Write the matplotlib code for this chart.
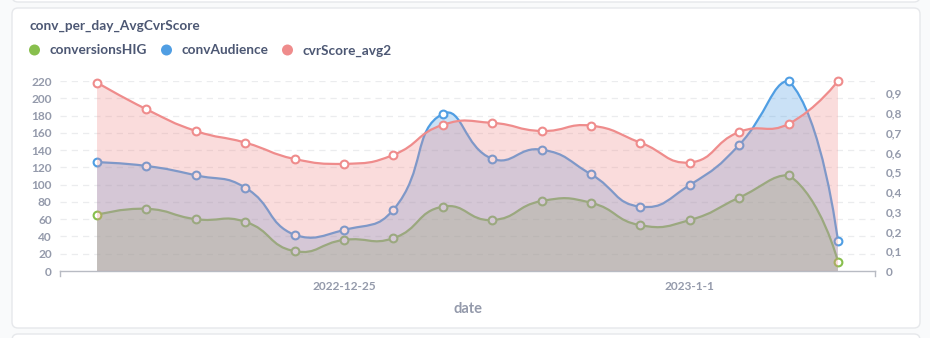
import numpy as np
import pandas as pd
import matplotlib
matplotlib.use("Agg")
import matplotlib.pyplot as plt
import matplotlib.dates as mdates
from matplotlib.path import Path
from matplotlib.patches import PathPatch, FancyBboxPatch, Circle
from matplotlib.ticker import FuncFormatter

# daily values
dates = pd.date_range("2022-12-20", "2023-01-04", freq="D")
conversions_hig = [65, 72, 60, 57, 23, 36, 38, 74.5, 59, 81, 79, 53, 59, 85, 111, 11]
conv_audience = [126, 121.6, 110.8, 96.5, 41.7, 47.5, 71, 182, 130, 140.5, 112, 74.5, 99.6, 146, 220, 34.7]
cvr_score_avg2 = [0.954, 0.819, 0.709, 0.650, 0.567, 0.542, 0.588, 0.740, 0.750,
                  0.709, 0.736, 0.650, 0.549, 0.704, 0.745, 0.962]
series_names = ["conversionsHIG", "convAudience", "cvrScore_avg2"]
x_tick_dates = ["2022-12-25", "2023-01-01"]
left_ticks = np.arange(0, 221, 20)
right_ticks = np.round(np.arange(0, 0.91, 0.1), 1)

GREEN = "#88BF4D"
BLUE = "#509EE3"
RED = "#EF8C8C"
TEXT_DARK = "#4C5773"
TEXT_LIGHT = "#949AAB"

plt.rcParams["font.family"] = ["Lato", "DejaVu Sans"]
plt.rcParams["font.weight"] = "bold"

W, H = 930, 338


def smooth_path(ax, xs, ys, smooth=0.5):
    """Cubic bezier through the points, control points built in screen space."""
    pts = ax.transData.transform(np.column_stack([xs, ys]))
    lo, hi = pts.min(axis=0), pts.max(axis=0)
    verts = [pts[0]]
    codes = [Path.MOVETO]
    cp0 = pts[0].copy()
    n = len(pts)
    for i in range(1, n):
        p = pts[i]
        if i == n - 1:
            v = np.zeros(2)
            ratio = 0.5
            cp1 = p.copy()
        else:
            v = pts[i + 1] - pts[i - 1]
            l0 = np.hypot(*(p - pts[i - 1]))
            l1 = np.hypot(*(pts[i + 1] - p))
            ratio = l1 / (l0 + l1)
            cp1 = p - v * smooth * (1 - ratio)
        verts += [np.clip(cp0, lo, hi), np.clip(cp1, lo, hi), p]
        codes += [Path.CURVE4] * 3
        cp0 = p + v * smooth * ratio
    return ax.transData.inverted().transform(np.array(verts)), codes


def draw_series(ax, xs, ys, color, z):
    verts, codes = smooth_path(ax, xs, ys)
    area_verts = np.vstack([verts, [[xs[-1], 0], [xs[0], 0], verts[0]]])
    area_codes = codes + [Path.LINETO, Path.LINETO, Path.CLOSEPOLY]
    ax.add_patch(PathPatch(Path(area_verts, area_codes), facecolor=color, alpha=0.3,
                           edgecolor="none", zorder=z))
    ax.add_patch(PathPatch(Path(verts, codes), facecolor="none", edgecolor=color,
                           lw=1.6, zorder=z + 0.1, clip_on=False))
    ax.plot(xs[1:-1], ys[1:-1], "o", ms=5.6, mfc="white", mec=color, mew=1.5,
            zorder=z + 0.2, clip_on=False)
    ax.plot([xs[0], xs[-1]], [ys[0], ys[-1]], "o", ms=5.6, mfc="white", mec=color,
            mew=1.5, zorder=10, clip_on=False)


fig = plt.figure(figsize=(W / 100, H / 100), dpi=100)
fig.patch.set_facecolor("#F9FAFB")

# background layer in pixel coordinates
bg = fig.add_axes([0, 0, 1, 1], zorder=0)
bg.set_xlim(0, W)
bg.set_ylim(H, 0)
bg.axis("off")
bg.add_patch(FancyBboxPatch((12, -30), 908, 32, boxstyle="round,pad=0,rounding_size=6",
                            facecolor="white", edgecolor="#E6E8EB", lw=1))
bg.add_patch(FancyBboxPatch((12, 8), 908, 320, boxstyle="round,pad=0,rounding_size=6",
                            facecolor="white", edgecolor="#E6E8EB", lw=1))
bg.add_patch(FancyBboxPatch((12, 334), 908, 30, boxstyle="round,pad=0,rounding_size=6",
                            facecolor="white", edgecolor="#E6E8EB", lw=1))

bg.text(29, 26, "conv_per_day_AvgCvrScore", fontsize=9.8, color=TEXT_DARK,
        va="center", ha="left")

legend_x = [34.5, 166.5, 287.5]
for name, color, lx in zip(series_names, [GREEN, BLUE, RED], legend_x):
    bg.add_patch(Circle((lx, 50), 5.5, facecolor=color, edgecolor="none"))
    bg.text(lx + 14.5, 50.5, name, fontsize=9.8, color=TEXT_DARK, va="center", ha="left")

bg.text(467.5, 309, "date", fontsize=10.5, color=TEXT_LIGHT, va="center", ha="center")

# plotting area
left, right, top, bottom = 60, 875, 81, 271
ax = fig.add_axes([left / W, (H - bottom) / H, (right - left) / W, (bottom - top) / H])
ax.set_zorder(1)
ax.patch.set_visible(False)
ax2 = ax.twinx()
ax2.set_zorder(2)
ax2.patch.set_visible(False)

xs = mdates.date2num(dates)
ax.set_xlim(xs[0] - 0.75, xs[-1] + 0.75)
ax.set_ylim(0, 220)
ax2.set_ylim(0, max(cvr_score_avg2))

for a in (ax, ax2):
    for s in a.spines.values():
        s.set_visible(False)
ax.spines["bottom"].set_visible(True)
ax.spines["bottom"].set_color("#B8BBC3")
ax.spines["bottom"].set_linewidth(1)

ax.set_yticks(left_ticks)
ax.set_yticklabels([str(t) for t in left_ticks])
ax2.set_yticks(right_ticks)
ax2.yaxis.set_major_formatter(FuncFormatter(
    lambda v, _: "0" if v == 0 else f"{v:.1f}".replace(".", ",")))

tick_dates = pd.to_datetime(x_tick_dates)
ax.set_xticks(mdates.date2num(tick_dates))
ax.set_xticklabels([f"{d.year}-{d.month}-{d.day}" for d in tick_dates])

for a in (ax, ax2):
    a.tick_params(length=0, colors=TEXT_LIGHT, labelsize=8.6)
ax.tick_params(axis="y", pad=6)
ax.tick_params(axis="x", pad=7)
ax2.tick_params(axis="y", pad=8)

for t in left_ticks[1:]:
    ax.axhline(t, color="#EBECEE", lw=0.9, ls=(0, (5, 4)), zorder=0.5)

# end ticks of the x axis
bg.plot([left, left], [bottom, bottom + 5], color="#B8BBC3", lw=1)
bg.plot([right, right], [bottom, bottom + 5], color="#B8BBC3", lw=1)

draw_series(ax, xs, np.array(conversions_hig), GREEN, 2)
draw_series(ax, xs, np.array(conv_audience), BLUE, 3)
draw_series(ax2, xs, np.array(cvr_score_avg2), RED, 4)

fig.savefig("out.png", dpi=100, facecolor=fig.get_facecolor())
